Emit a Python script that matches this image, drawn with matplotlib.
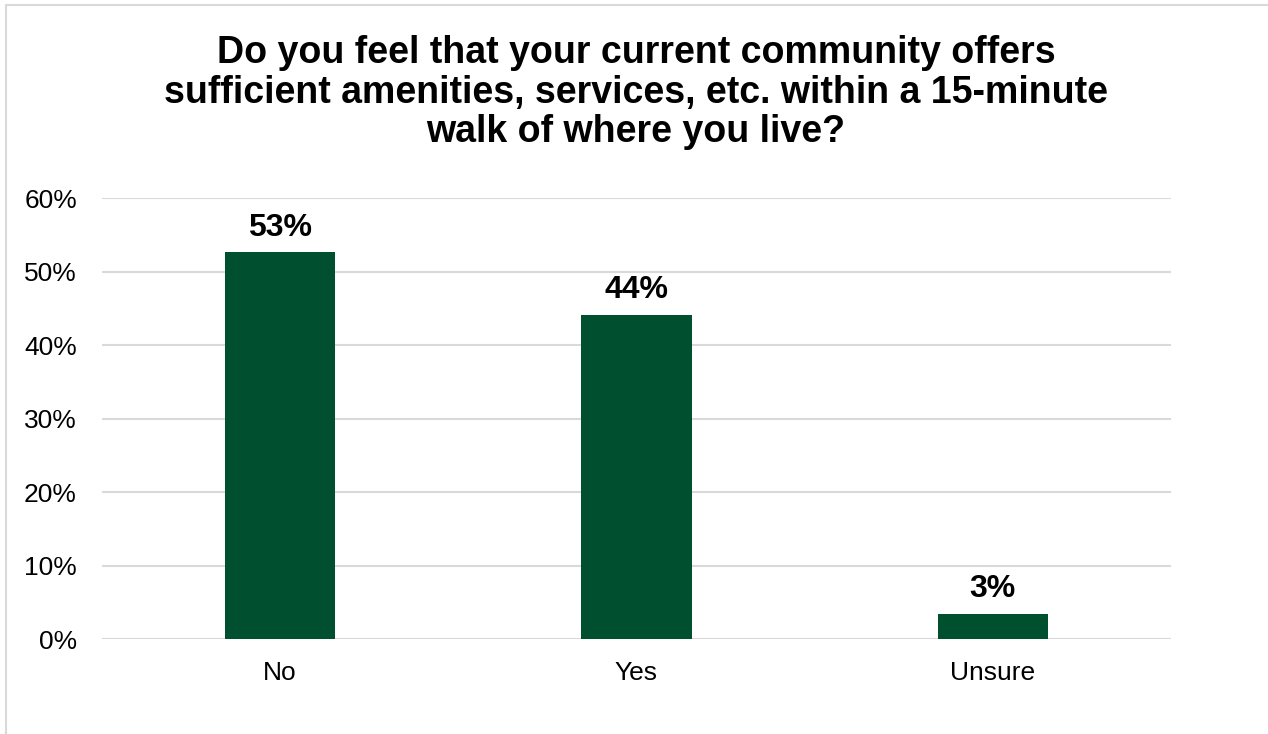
import matplotlib.pyplot as plt
from matplotlib.patches import Rectangle

plt.rcParams['font.family'] = ['Liberation Sans', 'DejaVu Sans']

categories = ['No', 'Yes', 'Unsure']
values = [52.6, 44.1, 3.4]
yticks = [0, 10, 20, 30, 40, 50, 60]
title = ("Do you feel that your current community offers\n"
         "sufficient amenities, services, etc. within a 15-minute\n"
         "walk of where you live?")

bar_color = '#00502F'
grid_color = '#D9D9D9'

fig = plt.figure(figsize=(12.68, 7.34), dpi=100)
ax = fig.add_axes([0.0804, 0.1294, 0.8431, 0.6008])

x = range(len(categories))
ax.bar(x, values, width=0.31, color=bar_color, zorder=3)

for xi, v in zip(x, values):
    ax.text(xi, v + 2.3, f"{round(v)}%", ha='center', va='baseline',
            fontsize=23, fontweight='bold', color='black')

ax.set_xlim(-0.5, 2.5)
ax.set_ylim(0, 60)
ax.set_yticks(yticks)
ax.set_yticklabels([f"{t}%" for t in yticks])
ax.set_xticks(list(x))
ax.set_xticklabels(categories)
ax.tick_params(axis='both', length=0, labelsize=19, colors='black')
ax.tick_params(axis='y', pad=18)
ax.tick_params(axis='x', pad=16)
ax.yaxis.grid(True, color=grid_color, linewidth=1.5, zorder=0)
for s in ax.spines.values():
    s.set_visible(False)
ax.set_facecolor('none')

fig.text(0.5016, 0.952, title, ha='center', va='top', fontsize=27,
         fontweight='bold', linespacing=1.12)

# outer chart border (right/bottom edges cut off like the reference)
fig.patches.append(Rectangle((6 / 1268, -0.1), 1.2, (734 - 5) / 734 + 0.1,
                             transform=fig.transFigure, fill=False,
                             edgecolor=grid_color, linewidth=1.5))

fig.savefig('out.png', dpi=100)
